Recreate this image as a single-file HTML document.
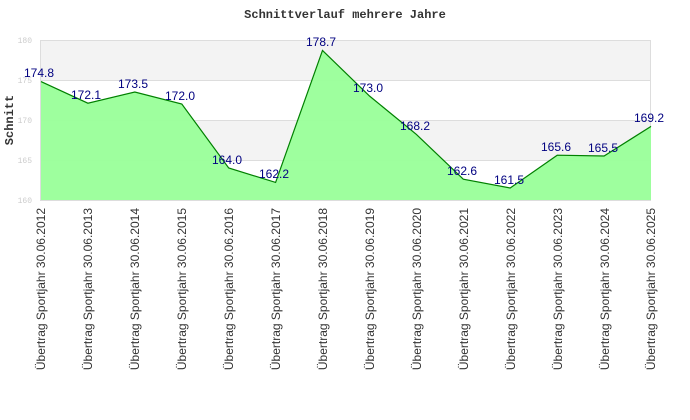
<!DOCTYPE html>
<html><head><style>body{margin:0;background:#fff}svg{display:block}</style></head>
<body>
<svg width="690" height="420" xmlns="http://www.w3.org/2000/svg">
<text x="345" y="18" text-anchor="middle" font-family="Liberation Mono, monospace" font-weight="bold" font-size="12" fill="#333">Schnittverlauf mehrere Jahre</text>
<rect x="40" y="40" width="611" height="40" fill="#f3f3f3"/>
<rect x="40" y="120" width="611" height="40" fill="#f3f3f3"/>
<g stroke="#ddd" stroke-width="1">
<line x1="40" y1="40.5" x2="651" y2="40.5"/><line x1="40" y1="80.5" x2="651" y2="80.5"/><line x1="40" y1="120.5" x2="651" y2="120.5"/><line x1="40" y1="160.5" x2="651" y2="160.5"/><line x1="40" y1="200.5" x2="651" y2="200.5"/>
<line x1="40.5" y1="40" x2="40.5" y2="200"/><line x1="650.5" y1="40" x2="650.5" y2="200"/>
</g>
<g font-family="Liberation Mono, monospace" font-size="8" fill="#ccc" text-anchor="end">
<text x="32" y="43">180</text><text x="32" y="83">175</text><text x="32" y="123">170</text><text x="32" y="163">165</text><text x="32" y="203">160</text>
</g>
<text transform="translate(13,120) rotate(-90)" text-anchor="middle" font-family="Liberation Mono, monospace" font-weight="bold" font-size="12" fill="#333">Schnitt</text>
<polygon fill="#99ff99" fill-opacity="0.95" points="41,200 41,81.6 87.9,103.2 134.8,92 181.8,104 228.7,168 275.6,182.4 322.5,50.4 369.5,96 416.4,134.4 463.3,179.2 510.2,188 557.2,155.2 604.1,156 651,126.4 651,200"/>
<polyline fill="none" stroke="#008000" stroke-width="1.2" points="41,81.6 87.9,103.2 134.8,92 181.8,104 228.7,168 275.6,182.4 322.5,50.4 369.5,96 416.4,134.4 463.3,179.2 510.2,188 557.2,155.2 604.1,156 651,126.4"/>
<g font-family="Liberation Sans, sans-serif" font-size="12" fill="#000080" text-anchor="middle">
<text x="39" y="77">174.8</text><text x="86" y="99">172.1</text><text x="133" y="88">173.5</text><text x="180" y="100">172.0</text><text x="227" y="164">164.0</text><text x="274" y="178">162.2</text><text x="321" y="46">178.7</text><text x="368" y="92">173.0</text><text x="415" y="130">168.2</text><text x="462" y="175">162.6</text><text x="509" y="184">161.5</text><text x="556" y="151">165.6</text><text x="603" y="152">165.5</text><text x="649" y="122">169.2</text>
</g>
<g font-family="Liberation Sans, sans-serif" font-size="12" fill="#333" text-anchor="end">
<text transform="translate(45,208) rotate(-90)">Übertrag Sportjahr 30.06.2012</text>
<text transform="translate(92,208) rotate(-90)">Übertrag Sportjahr 30.06.2013</text>
<text transform="translate(139,208) rotate(-90)">Übertrag Sportjahr 30.06.2014</text>
<text transform="translate(186,208) rotate(-90)">Übertrag Sportjahr 30.06.2015</text>
<text transform="translate(233,208) rotate(-90)">Übertrag Sportjahr 30.06.2016</text>
<text transform="translate(280,208) rotate(-90)">Übertrag Sportjahr 30.06.2017</text>
<text transform="translate(327,208) rotate(-90)">Übertrag Sportjahr 30.06.2018</text>
<text transform="translate(374,208) rotate(-90)">Übertrag Sportjahr 30.06.2019</text>
<text transform="translate(421,208) rotate(-90)">Übertrag Sportjahr 30.06.2020</text>
<text transform="translate(468,208) rotate(-90)">Übertrag Sportjahr 30.06.2021</text>
<text transform="translate(515,208) rotate(-90)">Übertrag Sportjahr 30.06.2022</text>
<text transform="translate(562,208) rotate(-90)">Übertrag Sportjahr 30.06.2023</text>
<text transform="translate(609,208) rotate(-90)">Übertrag Sportjahr 30.06.2024</text>
<text transform="translate(655,208) rotate(-90)">Übertrag Sportjahr 30.06.2025</text>
</g>
</svg>
</body></html>
